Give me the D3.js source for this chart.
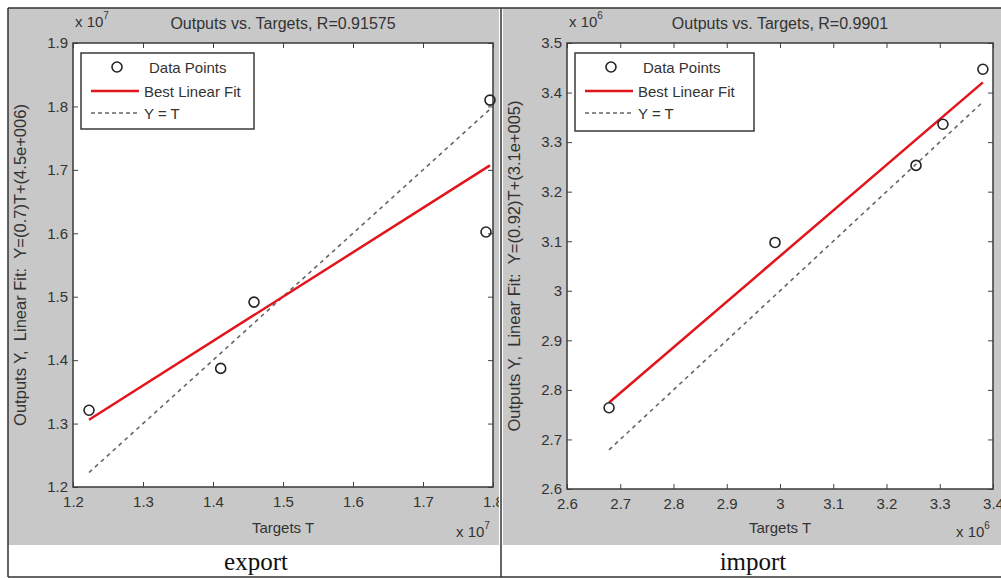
<!DOCTYPE html>
<html>
<head>
<meta charset="utf-8">
<script src="https://cdn.jsdelivr.net/npm/d3@7"></script>
<style>
  body { margin: 0; background: #fff; }
  svg { display: block; }
  .tick text { font-family: "Liberation Sans", Arial, sans-serif; font-size: 15px; fill: #333; }
  .lbl { font-family: "Liberation Sans", Arial, sans-serif; fill: #333; }
</style>
</head>
<body>
<svg id="chart" width="1001" height="578"></svg>
<script>
// export panel (values in units of 1e7)
const exportTargets = [1.2229, 1.411, 1.4586, 1.790, 1.7957];
const exportOutputs = [1.321, 1.387, 1.4915, 1.602, 1.810];
const exportFit = [0.7, 0.45];            // slope, intercept (x1e7)
const exportXTicks = [1.2, 1.3, 1.4, 1.5, 1.6, 1.7, 1.8];
const exportYTicks = [1.2, 1.3, 1.4, 1.5, 1.6, 1.7, 1.8, 1.9];

// import panel (values in units of 1e6)
const importTargets = [2.679, 2.9906, 3.2554, 3.306, 3.381];
const importOutputs = [2.764, 3.0975, 3.253, 3.336, 3.447];
const importFit = [0.92, 0.31];           // slope, intercept (x1e6)
const importXTicks = [2.6, 2.7, 2.8, 2.9, 3.0, 3.1, 3.2, 3.3, 3.4];
const importYTicks = [2.6, 2.7, 2.8, 2.9, 3.0, 3.1, 3.2, 3.3, 3.4, 3.5];

const svg = d3.select("#chart");
const fmt = d => (d === Math.round(d) ? d3.format("d")(d) : d3.format(".1f")(d));

function drawPanel(p) {
  const g = svg.append("g");
  g.append("clipPath").attr("id", "clip-" + p.name)
    .append("rect").attr("x", p.cell[0]).attr("y", p.cell[1])
    .attr("width", p.cell[2] - p.cell[0]).attr("height", p.cell[3] - p.cell[1]);
  const c = g.append("g").attr("clip-path", `url(#clip-${p.name})`);

  // gray figure background
  c.append("rect").attr("x", p.cell[0]).attr("y", p.cell[1])
    .attr("width", p.cell[2] - p.cell[0]).attr("height", p.grayBottom - p.cell[1])
    .attr("fill", "#c8c8c8");

  const x = d3.scaleLinear().domain(d3.extent(p.xTicks)).range([p.box[0], p.box[2]]);
  const y = d3.scaleLinear().domain(d3.extent(p.yTicks)).range([p.box[3], p.box[1]]);

  c.append("rect").attr("x", p.box[0]).attr("y", p.box[1])
    .attr("width", p.box[2] - p.box[0]).attr("height", p.box[3] - p.box[1])
    .attr("fill", "#fff");

  // axes, MATLAB style ticks inside
  const ax = (gen, tx, ty) => c.append("g").attr("transform", `translate(${tx},${ty})`).call(gen)
    .call(s => s.select(".domain").remove())
    .call(s => s.selectAll(".tick line").attr("stroke", "#444"));
  ax(d3.axisBottom(x).tickValues(p.xTicks).tickFormat(fmt).tickSizeInner(-5).tickSizeOuter(0).tickPadding(9), 0, p.box[3]);
  ax(d3.axisLeft(y).tickValues(p.yTicks).tickFormat(fmt).tickSizeInner(-5).tickSizeOuter(0).tickPadding(5), p.box[0], 0);
  ax(d3.axisTop(x).tickValues(p.xTicks).tickFormat("").tickSizeInner(-5).tickSizeOuter(0), 0, p.box[1]);
  ax(d3.axisRight(y).tickValues(p.yTicks).tickFormat("").tickSizeInner(-5).tickSizeOuter(0), p.box[2], 0);
  c.selectAll(".tick text").attr("fill", "#333");

  c.append("rect").attr("x", p.box[0]).attr("y", p.box[1])
    .attr("width", p.box[2] - p.box[0]).attr("height", p.box[3] - p.box[1])
    .attr("fill", "none").attr("stroke", "#3a3a3a").attr("stroke-width", 1.5);

  // lines
  const tMin = d3.min(p.targets), tMax = d3.max(p.targets);
  const line = d3.line().x(d => x(d[0])).y(d => y(d[1]));
  c.append("path").datum([[tMin, tMin], [tMax, tMax]]).attr("d", line)
    .attr("fill", "none").attr("stroke", "#666").attr("stroke-width", 1.6).attr("stroke-dasharray", "4,4");
  c.append("path").datum([tMin, tMax].map(t => [t, p.fit[0] * t + p.fit[1]])).attr("d", line)
    .attr("fill", "none").attr("stroke", "#e3141c").attr("stroke-width", 2.5);
  c.selectAll("circle.pt").data(p.targets).join("circle").attr("class", "pt")
    .attr("cx", d => x(d)).attr("cy", (d, i) => y(p.outputs[i])).attr("r", 5)
    .attr("fill", "none").attr("stroke", "#222").attr("stroke-width", 1.6);

  // legend
  const L = p.legend;
  const lg = c.append("g").attr("transform", `translate(${L[0]},${L[1]})`);
  lg.append("rect").attr("width", L[2]).attr("height", L[3]).attr("fill", "#fff")
    .attr("stroke", "#3a3a3a").attr("stroke-width", 1.5);
  lg.append("circle").attr("cx", 36).attr("cy", 14).attr("r", 5).attr("fill", "none")
    .attr("stroke", "#222").attr("stroke-width", 1.6);
  lg.append("line").attr("x1", 10).attr("x2", 58).attr("y1", 38).attr("y2", 38)
    .attr("stroke", "#e3141c").attr("stroke-width", 2.5);
  lg.append("line").attr("x1", 10).attr("x2", 58).attr("y1", 60).attr("y2", 60)
    .attr("stroke", "#666").attr("stroke-width", 1.6).attr("stroke-dasharray", "4,3");
  const lt = (txt, tx, ty) => lg.append("text").attr("class", "lbl").attr("x", tx).attr("y", ty)
    .attr("font-size", 15).text(txt);
  lt("Data Points", 68, 20);
  lt("Best Linear Fit", 63, 44);
  lt("Y = T", 63, 66);

  // titles and labels
  const cx = (p.box[0] + p.box[2]) / 2, cy = (p.box[1] + p.box[3]) / 2;
  c.append("text").attr("class", "lbl").attr("x", cx).attr("y", 29).attr("text-anchor", "middle")
    .attr("font-size", 16).text(p.title);
  c.append("text").attr("class", "lbl").attr("x", cx).attr("y", 533).attr("text-anchor", "middle")
    .attr("font-size", 15).text("Targets T");
  c.append("text").attr("class", "lbl").attr("transform", `translate(${p.box[0] - 47},${cy}) rotate(-90)`)
    .attr("text-anchor", "middle").attr("font-size", 16.5).text(p.yLabel);

  const expo = (tx, ty) => {
    const t = c.append("text").attr("class", "lbl").attr("x", tx).attr("y", ty).attr("font-size", 15);
    t.append("tspan").text("x 10");
    t.append("tspan").attr("dy", -8).attr("font-size", 10).text(p.exp);
  };
  expo(p.box[0] + 2, 27);
  expo(p.box[2] - 37, 537);

  // caption
  c.append("text").attr("x", p.captionX).attr("y", 570).attr("text-anchor", "middle")
    .attr("font-family", "'Liberation Serif', 'Times New Roman', serif").attr("font-size", 25)
    .attr("fill", "#111").text(p.caption);
}

drawPanel({
  name: "export", cell: [8, 8, 499, 578], grayBottom: 545, box: [73, 43, 493, 487],
  xTicks: exportXTicks, yTicks: exportYTicks, targets: exportTargets, outputs: exportOutputs,
  fit: exportFit, exp: "7", legend: [81, 53, 173, 76],
  title: "Outputs vs. Targets, R=0.91575",
  yLabel: "Outputs Y,\u00a0\u00a0Linear Fit:\u00a0\u00a0Y=(0.7)T+(4.5e+006)",
  caption: "export", captionX: 256
});
drawPanel({
  name: "import", cell: [503, 8, 1001, 578], grayBottom: 545, box: [567, 43, 993, 489],
  xTicks: importXTicks, yTicks: importYTicks, targets: importTargets, outputs: importOutputs,
  fit: importFit, exp: "6", legend: [575, 53, 179, 78],
  title: "Outputs vs. Targets, R=0.9901",
  yLabel: "Outputs Y,\u00a0\u00a0Linear Fit:\u00a0\u00a0Y=(0.92)T+(3.1e+005)",
  caption: "import", captionX: 753
});

// table borders
const borders = [[8, 8, 1001, 8], [8, 577, 1001, 577], [8, 8, 8, 577], [501, 8, 501, 577]];
svg.selectAll("line.border").data(borders).join("line").attr("class", "border")
  .attr("x1", d => d[0]).attr("y1", d => d[1]).attr("x2", d => d[2]).attr("y2", d => d[3])
  .attr("stroke", "#333").attr("stroke-width", 1.5);
</script>
</body>
</html>
